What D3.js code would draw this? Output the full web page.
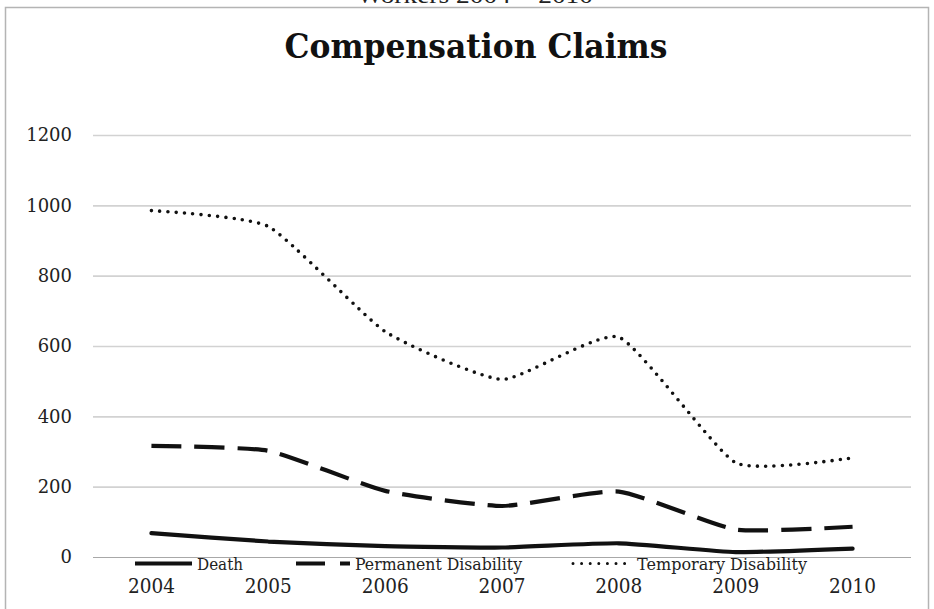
<!DOCTYPE html>
<html>
<head>
<meta charset="utf-8">
<script src="https://cdn.jsdelivr.net/npm/d3@7/dist/d3.min.js"></script>
<style>
  html, body { margin: 0; padding: 0; background: #fff; }
  svg { display: block; }
</style>
</head>
<body>
<div id="chart"></div>
<script>
// Compensation claims by type, 2004–2010
const years = ["2004", "2005", "2006", "2007", "2008", "2009", "2010"];
const death = [68, 44, 31, 27, 39, 14, 24];
const permanentDisability = [316, 302, 188, 145, 186, 78, 86];
const temporaryDisability = [985, 940, 641, 505, 625, 268, 282];
const yTicks = [0, 200, 400, 600, 800, 1000, 1200];
const seriesNames = ["Death", "Permanent Disability", "Temporary Disability"];

const W = 934, H = 609;
const plot = { left: 93, right: 911, top: 135, bottom: 557 };

const svg = d3.select("#chart").append("svg")
  .attr("width", W).attr("height", H);

// Frame of the chart object (top and left edges visible)
svg.append("rect")
  .attr("x", 5.5).attr("y", 7.5)
  .attr("width", 923).attr("height", 620)
  .attr("fill", "#fff").attr("stroke", "#b4b4b4").attr("stroke-width", 1.5);

// Caption above the frame, running past the top edge of the page
svg.append("text")
  .attr("x", 475).attr("y", 3)
  .attr("text-anchor", "middle")
  .attr("font-family", "Liberation Serif, serif")
  .attr("font-size", 24)
  .attr("textLength", 236).attr("lengthAdjust", "spacingAndGlyphs")
  .attr("fill", "#222")
  .text("Workers 2004 – 2010");

// Title
svg.append("text")
  .attr("x", 476).attr("y", 58)
  .attr("text-anchor", "middle")
  .attr("font-family", "DejaVu Serif, serif")
  .attr("font-weight", "bold")
  .attr("font-size", 34)
  .attr("textLength", 383).attr("lengthAdjust", "spacingAndGlyphs")
  .attr("fill", "#111")
  .text("Compensation Claims");

const x = d3.scaleBand().domain(years).range([plot.left, plot.right]).padding(0);
const cx = d => x(d) + x.bandwidth() / 2;
const y = d3.scaleLinear().domain([0, 1200]).range([plot.bottom, plot.top]);

// Horizontal gridlines and value labels
const yAxis = svg.append("g")
  .attr("transform", `translate(${plot.left},0)`)
  .call(d3.axisLeft(y).tickValues(yTicks).tickSize(-(plot.right - plot.left)).tickPadding(21).tickFormat(d3.format("d")));
yAxis.select(".domain").remove();
yAxis.selectAll(".tick line")
  .attr("stroke", d => d === 0 ? "#a8a8a8" : "#d2d2d2")
  .attr("stroke-width", d => d === 0 ? 1.2 : 1.6);
yAxis.selectAll(".tick text")
  .attr("font-family", "DejaVu Serif, serif")
  .attr("font-size", 18)
  .attr("fill", "#222");

// Category labels
const xAxis = svg.append("g")
  .attr("transform", `translate(0,${plot.bottom})`)
  .call(d3.axisBottom(x).tickSize(0).tickPadding(0));
xAxis.select(".domain").remove();
xAxis.selectAll(".tick text")
  .attr("y", 36).attr("dy", 0)
  .attr("font-family", "DejaVu Serif, serif")
  .attr("font-size", 20)
  .attr("textLength", 47).attr("lengthAdjust", "spacingAndGlyphs")
  .attr("fill", "#222");

// Series lines
const styles = [
  { values: death, dash: null, width: 4.2, cap: "round" },
  { values: permanentDisability, dash: "30 13", width: 4.2, cap: "butt" },
  { values: temporaryDisability, dash: "0 8.3", width: 3.6, cap: "round" }
];

const line = d3.line()
  .x((d, i) => cx(years[i]))
  .y(d => y(d))
  .curve(d3.curveCardinal.tension(0.5));

styles.forEach(s => {
  svg.append("path")
    .datum(s.values)
    .attr("d", line)
    .attr("fill", "none")
    .attr("stroke", "#111")
    .attr("stroke-width", s.width)
    .attr("stroke-linecap", s.cap)
    .attr("stroke-linejoin", "round")
    .attr("stroke-dasharray", s.dash);
});

// Legend, sitting on the axis line
const legendItems = [
  { name: seriesNames[0], x0: 135, x1: 192, tx: 197, tw: 46, dash: null, width: 4.2, cap: "butt" },
  { name: seriesNames[1], x0: 296, x1: 350, tx: 355, tw: 167, dash: "29 15", width: 4.2, cap: "butt" },
  { name: seriesNames[2], x0: 573, x1: 628, tx: 637, tw: 170, dash: "0 8.6", width: 3, cap: "round" }
];
const legend = svg.append("g");
legendItems.forEach(it => {
  legend.append("line")
    .attr("x1", it.x0).attr("x2", it.x1)
    .attr("y1", 563.5).attr("y2", 563.5)
    .attr("stroke", "#111")
    .attr("stroke-width", it.width)
    .attr("stroke-linecap", it.cap)
    .attr("stroke-dasharray", it.dash);
  legend.append("text")
    .attr("x", it.tx).attr("y", 570)
    .attr("font-family", "DejaVu Serif, serif")
    .attr("font-size", 16)
    .attr("textLength", it.tw).attr("lengthAdjust", "spacingAndGlyphs")
    .attr("fill", "#222")
    .text(it.name);
});
</script>
</body>
</html>
